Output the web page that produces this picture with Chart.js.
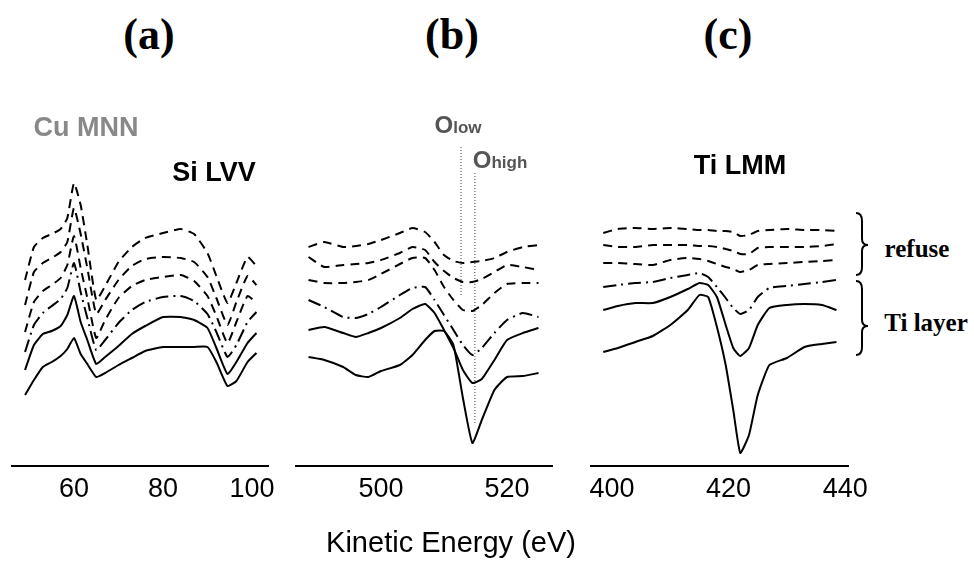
<!DOCTYPE html>
<html>
<head>
<meta charset="utf-8">
<script src="https://cdn.jsdelivr.net/npm/chart.js@4.4.1/dist/chart.umd.min.js"></script>
<style>
  body { margin: 0; width: 974px; height: 563px; background: #fff; position: relative; overflow: hidden; font-family: "Liberation Sans", Arial, sans-serif; }
  canvas { position: absolute; }
  .lbl { position: absolute; transform: translate(-50%, -50%); white-space: nowrap; line-height: 1; }
  .panel { font-family: "Liberation Serif", serif; font-weight: bold; font-size: 44px; }
  .peak { font-weight: bold; font-size: 27px; color: #000; }
  .oxy { font-weight: bold; font-size: 24px; color: #555; }
  .oxy span { font-size: 17px; }
  .side { font-family: "Liberation Serif", serif; font-weight: bold; font-size: 25px; }
  .axis-title { font-size: 29px; }
  svg { position: absolute; left: 0; top: 0; }
</style>
</head>
<body>
<canvas id="panel_a" width="316" height="405"></canvas>
<canvas id="panel_b" width="316" height="405"></canvas>
<canvas id="panel_c" width="317" height="405"></canvas>

<div class="lbl panel" style="left:149px; top:35px;">(a)</div>
<div class="lbl panel" style="left:452px; top:35px;">(b)</div>
<div class="lbl panel" style="left:728px; top:35px;">(c)</div>

<div class="lbl peak" style="left:86px; top:127px; color:#888;">Cu MNN</div>
<div class="lbl peak" style="left:214px; top:172px;">Si LVV</div>
<div class="lbl peak" style="left:740px; top:165px;">Ti LMM</div>
<div class="lbl oxy" style="left:458px; top:125px;">O<span>low</span></div>
<div class="lbl oxy" style="left:500px; top:160px;">O<span>high</span></div>

<div class="lbl side" style="left:917px; top:248px;">refuse</div>
<div class="lbl side" style="left:926px; top:322px;">Ti layer</div>

<div class="lbl axis-title" style="left:451px; top:542px;">Kinetic Energy (eV)</div>

<svg width="974" height="563">
  <path d="M856,213 Q862,213 862,221 L862,239 Q862,245 868,245 Q862,245 862,251 L862,267 Q862,275 856,275" fill="none" stroke="#000" stroke-width="2"/>
  <path d="M856,281 Q862,281 862,289 L862,320 Q862,326 868,326 Q862,326 862,332 L862,347 Q862,355 856,355" fill="none" stroke="#000" stroke-width="2"/>
</svg>

<script>
// panel (a): Cu MNN / Si LVV region
const energyA = [49, 51, 53, 55, 57, 58.5, 60, 61.5, 63, 65, 67, 70, 73, 76, 80, 84, 87, 90, 92, 94.5, 96.5, 99, 101];
const refuseA1 = [186, 219, 228, 232, 237, 248, 283, 261, 221, 166, 180, 204, 219, 228, 233, 237, 232, 213, 190, 163, 183, 209, 200];
const refuseA2 = [161, 194, 203, 208, 214, 224, 258, 232, 198, 152, 166, 186, 200, 207, 209, 208, 204, 189, 168, 141, 164, 190, 181];
const refuseA3 = [134, 164, 175, 181, 188, 201, 230, 198, 168, 128, 146, 168, 180, 186, 189, 191, 185, 170, 150, 123, 144, 170, 163];
const layerA1 = [114, 141, 153, 160, 167, 178, 203, 174, 148, 116, 126, 143, 156, 164, 169, 170, 165, 152, 134, 109, 121, 144, 154];
const layerA2 = [96, 121, 132, 135, 140, 151, 170, 144, 126, 102, 109, 120, 132, 140, 149, 149, 146, 138, 118, 92, 104, 123, 133];
const layerA3 = [71, 86, 99, 104, 110, 117, 128, 112, 102, 89, 93, 101, 108, 115, 119, 119, 119, 119, 104, 80, 85, 104, 113];
const ticksA = [60, 80, 100];

// panel (b): O KLL region
const energyB = [488.5, 491, 494, 496, 498, 500, 503, 505, 507, 508.5, 510, 511.5, 513, 514.5, 516, 518, 520, 522.5, 525];
const refuseB1 = [219, 224, 219, 220, 222, 226, 233, 238, 234, 224, 211, 205, 203, 204, 205, 208, 214, 219, 221];
const refuseB2 = [209, 199, 201, 202, 203, 206, 213, 219, 216, 204, 195, 188, 184, 184, 187, 194, 201, 199, 196];
const refuseB3 = [186, 183, 183, 184, 186, 192, 202, 208, 208, 196, 179, 166, 156, 155, 161, 173, 182, 183, 183];
const layerB1 = [166, 159, 149, 148, 152, 159, 171, 178, 179, 166, 151, 136, 121, 111, 118, 133, 146, 153, 149];
const layerB2 = [136, 139, 133, 129, 133, 138, 148, 157, 162, 153, 136, 118, 96, 83, 87, 106, 126, 133, 138];
const layerB3 = [109, 106, 99, 91, 89, 95, 101, 111, 126, 135, 135, 121, 68, 23, 46, 76, 89, 90, 93];
const ticksB = [500, 520];
const oLow = 512.7, oLowSpan = [171, 321];
const oHigh = 514.9, oHighSpan = [43, 294];

// panel (c): Ti LMM region
const energyC = [398.5, 401, 404, 407, 410, 413, 415, 416.5, 418, 419.5, 420.8, 422, 423.5, 425, 427, 430, 433, 436, 438.5];
const refuseC1 = [233, 237, 238, 237, 238, 237, 236, 236, 235, 235, 234, 230, 231, 235, 236, 237, 236, 236, 235];
const refuseC2 = [221, 219, 219, 221, 221, 221, 220, 220, 219, 217, 215, 212, 212, 218, 219, 219, 219, 220, 222];
const refuseC3 = [203, 203, 202, 201, 206, 208, 207, 205, 202, 199, 197, 194, 196, 201, 202, 203, 204, 205, 206];
const layerC1 = [179, 181, 183, 184, 188, 191, 193, 189, 179, 168, 158, 152, 156, 169, 178, 180, 182, 184, 186];
const layerC2 = [156, 160, 163, 163, 169, 177, 183, 181, 169, 141, 118, 110, 118, 141, 158, 161, 162, 161, 156];
const layerC3 = [114, 118, 124, 130, 141, 156, 171, 169, 139, 101, 56, 13, 31, 71, 101, 108, 119, 122, 124];
const ticksC = [400, 420, 440];

const dashStyles = [[9, 6], [9, 6], [9, 6], [13, 5, 2, 5], [], []];

function curve(energy, values, dash) {
    return {
        data: energy.map(function (e, i) { return {x: e, y: values[i]}; }),
        borderColor: "#000",
        borderWidth: 2,
        borderDash: dash,
        tension: 0.15,
        fill: false
    };
}

function marker(energy, span) {
    return {
        data: [{x: energy, y: span[0]}, {x: energy, y: span[1]}],
        borderColor: "#444",
        borderWidth: 1,
        borderDash: [1, 2],
        fill: false
    };
}

function draw_panel(id, left, energy, series, xmin, xmax, ticks, extra) {
    let canvas = document.getElementById(id);
    canvas.style.left = left + "px";
    canvas.style.top = "106px";

    let datasets = series.map(function (s, i) { return curve(energy, s, dashStyles[i]); });
    datasets = datasets.concat(extra || []);

    new Chart(canvas, {
        type: "line",
        data: { datasets: datasets },
        options: {
            responsive: false,
            animation: false,
            devicePixelRatio: 1,
            layout: { padding: { left: 30, right: 30, top: 10, bottom: 0 } },
            plugins: { legend: { display: false }, tooltip: { enabled: false } },
            elements: { point: { radius: 0 } },
            scales: {
                x: {
                    type: "linear",
                    min: xmin,
                    max: xmax,
                    afterBuildTicks: function (scale) {
                        scale.ticks = ticks.map(function (v) { return {value: v}; });
                    },
                    afterFit: function (scale) { scale.height = 45; },
                    grid: { display: false, drawTicks: false },
                    border: { display: true, color: "#000", width: 2 },
                    ticks: {
                        color: "#000",
                        font: { family: "Liberation Sans", size: 27 },
                        padding: 7,
                        maxRotation: 0,
                        autoSkip: false
                    }
                },
                y: { display: false, min: 0, max: 350 }
            }
        }
    });
}

draw_panel("panel_a", -18, energyA, [refuseA1, refuseA2, refuseA3, layerA1, layerA2, layerA3], 46.07, 103.6, ticksA);
draw_panel("panel_b", 266, energyB, [refuseB1, refuseB2, refuseB3, layerB1, layerB2, layerB3], 486.51, 527.14, ticksB,
    [marker(oLow, oLowSpan), marker(oHigh, oHighSpan)]);
draw_panel("panel_c", 561, energyC, [refuseC1, refuseC2, refuseC3, layerC1, layerC2, layerC3], 396.40, 440.48, ticksC);
</script>
</body>
</html>
